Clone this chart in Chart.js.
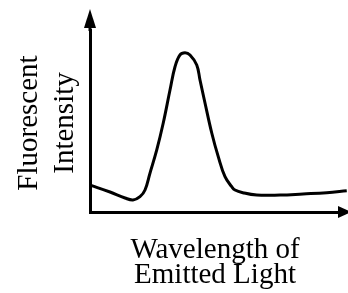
<!DOCTYPE html>
<html>
<head>
<meta charset="utf-8">
<script src="https://cdn.jsdelivr.net/npm/chart.js@4"></script>
<style>
  html, body { margin: 0; padding: 0; background: #fff; }
  #wrap { width: 348px; height: 293px; }
</style>
</head>
<body>
<div id="wrap"><canvas id="spectrum"></canvas></div>
<script>
// curve (arbitrary units, 0-100)
const wavelength = [0, 8, 14, 17.2, 20, 22, 24, 26.7, 29.3, 32, 34, 36, 38, 40, 42.7, 44, 46, 48.7, 51.3, 54, 56.7, 58, 61.2, 66.7, 76, 85.2, 94.7, 102.7];
const intensity = [14.8, 11, 7.7, 6.6, 8.4, 12.1, 21.4, 34.1, 48.9, 67, 79.8, 86.3, 87.5, 86.3, 80.8, 72.5, 59.9, 43.4, 30.4, 19.4, 13.9, 12.1, 10.6, 9.3, 9.3, 9.9, 10.6, 11.7];
const xTitle = ["Wavelength of", "Emitted Light"];
const yTitle = ["Fluorescent", "Intensity"];

const points = wavelength.map((w, i) => ({ x: w, y: intensity[i] }));
const titleFont = "29px 'Liberation Serif', 'Times New Roman', serif";

// axis titles + arrow heads
const decor = {
    id: "decor",
    afterDraw(chart) {
        const ctx = chart.ctx;
        const a = chart.chartArea;
        ctx.save();
        ctx.fillStyle = "#000";
        ctx.strokeStyle = "#000";
        ctx.lineWidth = 3;
        // y axis arrow
        ctx.beginPath();
        ctx.moveTo(a.left, a.top + 1);
        ctx.lineTo(a.left, 26);
        ctx.stroke();
        ctx.beginPath();
        ctx.moveTo(a.left, 9);
        ctx.lineTo(a.left - 6, 28);
        ctx.lineTo(a.left + 6, 28);
        ctx.closePath();
        ctx.fill();
        // x axis arrow
        ctx.beginPath();
        ctx.moveTo(a.right - 1, a.bottom);
        ctx.lineTo(a.right + 1, a.bottom);
        ctx.stroke();
        ctx.beginPath();
        ctx.moveTo(351, a.bottom);
        ctx.lineTo(338, a.bottom - 6);
        ctx.lineTo(338, a.bottom + 6);
        ctx.closePath();
        ctx.fill();

        ctx.font = titleFont;
        ctx.textAlign = "center";
        ctx.textBaseline = "alphabetic";
        // x title, two lines under the axis
        const cx = (a.left + a.right) / 2;
        ctx.fillText(xTitle[0], cx, a.bottom + 46);
        ctx.fillText(xTitle[1], cx, a.bottom + 71);
        // y title, rotated, two lines left of the axis
        const cy = (a.top + a.bottom) / 2 + 2;
        ctx.translate(37, cy);
        ctx.rotate(-Math.PI / 2);
        ctx.fillText(yTitle[0], 0, 0);
        ctx.fillText(yTitle[1], 0, 36);
        ctx.restore();
    }
};

new Chart(document.getElementById("spectrum"), {
    type: "line",
    data: {
        datasets: [{
            data: points,
            borderColor: "#000",
            borderWidth: 3,
            pointRadius: 0,
            tension: 0.4,
            fill: false,
            clip: false
        }]
    },
    options: {
        responsive: true,
        maintainAspectRatio: false,
        animation: false,
        layout: { padding: { left: 90, right: 8, top: 30, bottom: 81 } },
        plugins: { legend: { display: false }, tooltip: { enabled: false } },
        scales: {
            x: {
                type: "linear",
                min: 0,
                max: 100,
                grid: { display: false, drawTicks: false },
                ticks: { display: false },
                border: { display: true, color: "#000", width: 3 }
            },
            y: {
                min: 0,
                max: 100,
                grid: { display: false, drawTicks: false },
                ticks: { display: false },
                border: { display: true, color: "#000", width: 3 }
            }
        }
    },
    plugins: [decor]
});
</script>
</body>
</html>
